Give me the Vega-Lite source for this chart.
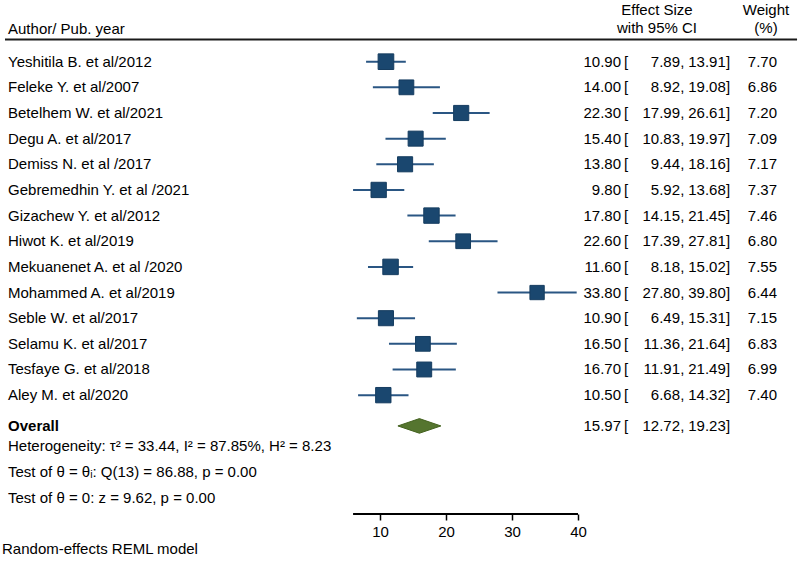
{
  "$schema": "https://vega.github.io/schema/vega-lite/v6.json",
  "width": 800,
  "height": 564,
  "autosize": "none",
  "padding": 0,
  "background": "white",
  "config": {"view": {"stroke": null}, "font": "Liberation Sans"},
  "datasets": {
    "table": [
      {"study": "Yeshitila B. et al/2012", "es": 10.90, "lo": 7.89, "hi": 13.91, "w": 7.70, "row": 1},
      {"study": "Feleke Y. et al/2007", "es": 14.00, "lo": 8.92, "hi": 19.08, "w": 6.86, "row": 2},
      {"study": "Betelhem W. et al/2021", "es": 22.30, "lo": 17.99, "hi": 26.61, "w": 7.20, "row": 3},
      {"study": "Degu A. et al/2017", "es": 15.40, "lo": 10.83, "hi": 19.97, "w": 7.09, "row": 4},
      {"study": "Demiss N. et al /2017", "es": 13.80, "lo": 9.44, "hi": 18.16, "w": 7.17, "row": 5},
      {"study": "Gebremedhin Y. et al /2021", "es": 9.80, "lo": 5.92, "hi": 13.68, "w": 7.37, "row": 6},
      {"study": "Gizachew Y. et al/2012", "es": 17.80, "lo": 14.15, "hi": 21.45, "w": 7.46, "row": 7},
      {"study": "Hiwot K. et al/2019", "es": 22.60, "lo": 17.39, "hi": 27.81, "w": 6.80, "row": 8},
      {"study": "Mekuanenet A. et al /2020", "es": 11.60, "lo": 8.18, "hi": 15.02, "w": 7.55, "row": 9},
      {"study": "Mohammed A. et al/2019", "es": 33.80, "lo": 27.80, "hi": 39.80, "w": 6.44, "row": 10},
      {"study": "Seble W. et al/2017", "es": 10.90, "lo": 6.49, "hi": 15.31, "w": 7.15, "row": 11},
      {"study": "Selamu K. et al/2017", "es": 16.50, "lo": 11.36, "hi": 21.64, "w": 6.83, "row": 12},
      {"study": "Tesfaye G. et al/2018", "es": 16.70, "lo": 11.91, "hi": 21.49, "w": 6.99, "row": 13},
      {"study": "Aley M. et al/2020", "es": 10.50, "lo": 6.68, "hi": 14.32, "w": 7.40, "row": 14},
      {"study": "Overall", "es": 15.97, "lo": 12.72, "hi": 19.23, "row": 15.2}
    ],
    "stats": [
      {"text": "Heterogeneity: τ² = 33.44, I² = 87.85%, H² = 8.23", "row": 16},
      {"text": "Test of θ = θᵢ: Q(13) = 86.88, p = 0.00", "row": 17},
      {"text": "Test of θ = 0: z = 9.62, p = 0.00", "row": 18}
    ]
  },
  "layer": [
    {
      "data": {"values": [{}]},
      "mark": {"type": "rule", "strokeWidth": 2, "color": "#1a1a1a"},
      "encoding": {
        "x": {"datum": -46.82, "type": "quantitative", "scale": {"domain": [-47.576, 73.636], "nice": false, "zero": false}, "axis": {"values": [10, 20, 30, 40], "domain": false, "grid": false, "ticks": true, "tickSize": 6, "tickWidth": 1.5, "tickColor": "#000", "labelFont": "Liberation Sans", "labelFontSize": 15, "labelColor": "#000", "labelPadding": 4, "offset": -50, "title": null}},
        "x2": {"datum": 73.19},
        "y": {"datum": 0.134, "type": "quantitative", "scale": {"domain": [-1.405, 20.583], "nice": false, "zero": false, "reverse": true}, "axis": null}
      }
    },
    {
      "data": {"values": [{}]},
      "mark": {"type": "text", "text": "Author/ Pub. year", "align": "left", "baseline": "middle", "fontSize": 15, "fill": "#000"},
      "encoding": {
        "x": {"datum": -46.36, "type": "quantitative"},
        "y": {"datum": -0.28, "type": "quantitative", "axis": null}
      }
    },
    {
      "data": {"values": [{}]},
      "mark": {"type": "text", "text": "Effect Size", "align": "center", "baseline": "middle", "fontSize": 15, "fill": "#000"},
      "encoding": {
        "x": {"datum": 51.97, "type": "quantitative"},
        "y": {"datum": -1.02, "type": "quantitative", "axis": null}
      }
    },
    {
      "data": {"values": [{}]},
      "mark": {"type": "text", "text": "with 95% CI", "align": "center", "baseline": "middle", "fontSize": 15, "fill": "#000"},
      "encoding": {
        "x": {"datum": 51.97, "type": "quantitative"},
        "y": {"datum": -0.3, "type": "quantitative", "axis": null}
      }
    },
    {
      "data": {"values": [{}]},
      "mark": {"type": "text", "text": "Weight", "align": "center", "baseline": "middle", "fontSize": 15, "fill": "#000"},
      "encoding": {
        "x": {"datum": 68.48, "type": "quantitative"},
        "y": {"datum": -1.02, "type": "quantitative", "axis": null}
      }
    },
    {
      "data": {"values": [{}]},
      "mark": {"type": "text", "text": "(%)", "align": "center", "baseline": "middle", "fontSize": 15, "fill": "#000"},
      "encoding": {
        "x": {"datum": 68.48, "type": "quantitative"},
        "y": {"datum": -0.3, "type": "quantitative", "axis": null}
      }
    },
    {
      "data": {"name": "table"},
      "transform": [{"filter": "isValid(datum.w)"}],
      "mark": {"type": "rule", "strokeWidth": 2, "color": "#2a5683"},
      "encoding": {
        "x": {"field": "lo", "type": "quantitative"},
        "x2": {"field": "hi"},
        "y": {"field": "row", "type": "quantitative", "axis": null}
      }
    },
    {
      "data": {"name": "table"},
      "transform": [{"filter": "isValid(datum.w)"}],
      "mark": {"type": "point", "shape": "square", "filled": true, "fill": "#1a476f", "stroke": "#163d60", "strokeWidth": 1, "opacity": 1},
      "encoding": {
        "x": {"field": "es", "type": "quantitative"},
        "y": {"field": "row", "type": "quantitative", "axis": null},
        "size": {"field": "w", "type": "quantitative", "scale": {"type": "linear", "domain": [0, 7.7], "range": [0, 245]}, "legend": null}
      }
    },
    {
      "data": {"name": "table"},
      "transform": [{"filter": "datum.study === 'Overall'"}],
      "mark": {"type": "point", "shape": "M-1,0L0,-0.34L1,0L0,0.34Z", "filled": true, "fill": "#55752f", "stroke": "#44621f", "strokeWidth": 1, "size": 1846, "opacity": 1},
      "encoding": {
        "x": {"field": "es", "type": "quantitative"},
        "y": {"field": "row", "type": "quantitative", "axis": null}
      }
    },
    {
      "data": {"name": "table"},
      "transform": [{"filter": "datum.study !== 'Overall'"}],
      "mark": {"type": "text", "align": "left", "baseline": "middle", "fontSize": 15, "fill": "#000"},
      "encoding": {
        "x": {"datum": -46.36, "type": "quantitative"},
        "y": {"field": "row", "type": "quantitative", "axis": null},
        "text": {"field": "study"}
      }
    },
    {
      "data": {"name": "table"},
      "transform": [{"filter": "datum.study === 'Overall'"}],
      "mark": {"type": "text", "align": "left", "baseline": "middle", "fontSize": 15, "fontWeight": "bold", "fill": "#000"},
      "encoding": {
        "x": {"datum": -46.36, "type": "quantitative"},
        "y": {"field": "row", "type": "quantitative", "axis": null},
        "text": {"field": "study"}
      }
    },
    {
      "data": {"name": "table"},
      "mark": {"type": "text", "align": "right", "baseline": "middle", "fontSize": 15, "fill": "#000"},
      "encoding": {
        "x": {"datum": 46.515, "type": "quantitative"},
        "y": {"field": "row", "type": "quantitative", "axis": null},
        "text": {"field": "es", "format": ".2f"}
      }
    },
    {
      "data": {"name": "table"},
      "mark": {"type": "text", "text": "[", "align": "left", "baseline": "middle", "fontSize": 15, "fill": "#000"},
      "encoding": {
        "x": {"datum": 46.97, "type": "quantitative"},
        "y": {"field": "row", "type": "quantitative", "axis": null}
      }
    },
    {
      "data": {"name": "table"},
      "mark": {"type": "text", "align": "right", "baseline": "middle", "fontSize": 15, "fill": "#000"},
      "encoding": {
        "x": {"datum": 55.455, "type": "quantitative"},
        "y": {"field": "row", "type": "quantitative", "axis": null},
        "text": {"field": "lo", "format": ".2f"}
      }
    },
    {
      "data": {"name": "table"},
      "mark": {"type": "text", "text": ",", "align": "left", "baseline": "middle", "fontSize": 15, "fill": "#000"},
      "encoding": {
        "x": {"datum": 55.49, "type": "quantitative"},
        "y": {"field": "row", "type": "quantitative", "axis": null}
      }
    },
    {
      "data": {"name": "table"},
      "mark": {"type": "text", "align": "right", "baseline": "middle", "fontSize": 15, "fill": "#000"},
      "encoding": {
        "x": {"datum": 62.39, "type": "quantitative"},
        "y": {"field": "row", "type": "quantitative", "axis": null},
        "text": {"field": "hi", "format": ".2f"}
      }
    },
    {
      "data": {"name": "table"},
      "mark": {"type": "text", "text": "]", "align": "left", "baseline": "middle", "fontSize": 15, "fill": "#000"},
      "encoding": {
        "x": {"datum": 62.41, "type": "quantitative"},
        "y": {"field": "row", "type": "quantitative", "axis": null}
      }
    },
    {
      "data": {"name": "table"},
      "transform": [{"filter": "isValid(datum.w)"}],
      "mark": {"type": "text", "align": "right", "baseline": "middle", "fontSize": 15, "fill": "#000"},
      "encoding": {
        "x": {"datum": 70.15, "type": "quantitative"},
        "y": {"field": "row", "type": "quantitative", "axis": null},
        "text": {"field": "w", "format": ".2f"}
      }
    },
    {
      "data": {"name": "stats"},
      "mark": {"type": "text", "align": "left", "baseline": "middle", "fontSize": 15, "fill": "#000"},
      "encoding": {
        "x": {"datum": -46.36, "type": "quantitative"},
        "y": {"field": "row", "type": "quantitative", "axis": null},
        "text": {"field": "text"}
      }
    },
    {
      "data": {"values": [{}]},
      "mark": {"type": "text", "text": "Random-effects REML model", "align": "left", "baseline": "middle", "fontSize": 15, "fill": "#000"},
      "encoding": {
        "x": {"datum": -47.27, "type": "quantitative"},
        "y": {"datum": 20.0, "type": "quantitative", "axis": null}
      }
    },
    {
      "data": {"values": [{}]},
      "mark": {"type": "rule", "strokeWidth": 2, "color": "#000"},
      "encoding": {
        "x": {"datum": 5.92, "type": "quantitative"},
        "x2": {"datum": 40},
        "y": {"datum": 18.634, "type": "quantitative", "axis": null}
      }
    }
  ]
}
